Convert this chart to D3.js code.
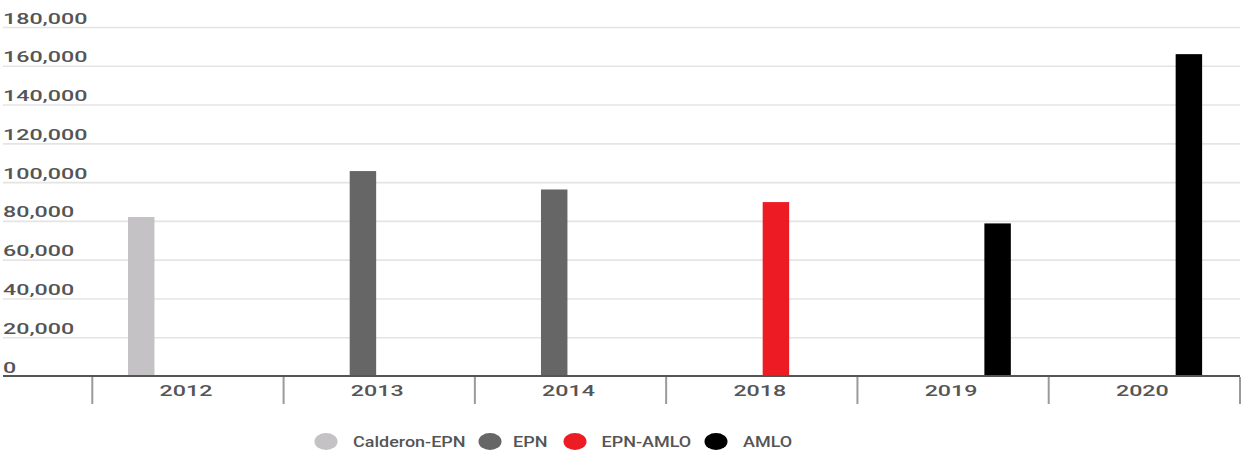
<!DOCTYPE html>
<html>
<head>
<meta charset="utf-8">
<script src="https://cdn.jsdelivr.net/npm/d3@7"></script>
<style>
  html, body { margin: 0; padding: 0; background: #fff; }
  svg { display: block; }
  text { font-family: Roboto, "Open Sans", sans-serif; }
</style>
</head>
<body>
<svg id="chart" width="1247" height="455"></svg>
<script>
// Years on the x axis
const categories = ["2012", "2013", "2014", "2018", "2019", "2020"];
// Series (administration periods)
const seriesNames = ["Calderon-EPN", "EPN", "EPN-AMLO", "AMLO"];
const seriesColors = ["#c4c2c4", "#666666", "#ed1c24", "#000000"];
// Values per series, one per year (null where the series has no bar)
const calderonEpnValues = [82000, null, null, null, null, null];
const epnValues = [null, 105700, 96200, null, null, null];
const epnAmloValues = [null, null, null, 89700, null, null];
const amloValues = [null, null, null, null, 78700, 166000];
// Y tick values
const yTicks = [0, 20000, 40000, 60000, 80000, 100000, 120000, 140000, 160000, 180000];

const seriesValues = [calderonEpnValues, epnValues, epnAmloValues, amloValues];

const svg = d3.select("#chart");
const left = 3, right = 1240, baseY = 376, topY = 27;
const stretch = 1.55;      // horizontal stretch of the axis type
const legendStretch = 1.2;

const x0 = d3.scaleBand().domain(categories).range([92.3, right]).padding(0);
const x1 = d3.scaleBand().domain(seriesNames).range([35.7, 153.4]).paddingInner(0.13);
const y = d3.scaleLinear().domain([0, 180000]).range([baseY, topY]);
const color = d3.scaleOrdinal().domain(seriesNames).range(seriesColors);

// Horizontal gridlines
const grid = svg.append("g")
  .attr("transform", `translate(${left},0)`)
  .call(d3.axisLeft(y).tickValues(yTicks.filter(d => d > 0)).tickSize(-(right - left)).tickFormat(""));
grid.select(".domain").remove();
grid.selectAll(".tick line").attr("stroke", "#e4e4e4").attr("stroke-width", 1.6);

// Y labels sitting just above each gridline
const fmt = d3.format(",");
svg.append("g").selectAll("text")
  .data(yTicks)
  .join("text")
  .attr("transform", d => `translate(${left},${y(d) - 3.5}) scale(${stretch},1)`)
  .attr("font-size", 15)
  .attr("font-weight", 500)
  .attr("fill", "#555")
  .text(d => fmt(d));

// Bars
const rows = [];
categories.forEach((c, i) => {
  seriesNames.forEach((s, j) => {
    const v = seriesValues[j][i];
    if (v != null) rows.push({ cat: c, series: s, value: v });
  });
});
svg.append("g").selectAll("rect")
  .data(rows)
  .join("rect")
  .attr("x", d => x0(d.cat) + x1(d.series))
  .attr("width", x1.bandwidth())
  .attr("y", d => y(d.value))
  .attr("height", d => y(0) - y(d.value))
  .attr("fill", d => color(d.series));

// Baseline
svg.append("line")
  .attr("x1", left).attr("x2", right)
  .attr("y1", baseY).attr("y2", baseY)
  .attr("stroke", "#555").attr("stroke-width", 2);

// Category separators (ticks at band edges)
const edges = categories.map(c => x0(c)).concat([x0.range()[1]]);
svg.append("g").selectAll("line")
  .data(edges)
  .join("line")
  .attr("x1", d => d).attr("x2", d => d)
  .attr("y1", baseY + 1).attr("y2", 404)
  .attr("stroke", "#9a9a9a").attr("stroke-width", 2);

// Category labels
svg.append("g").selectAll("text")
  .data(categories)
  .join("text")
  .attr("transform", d => `translate(${x0(d) + x0.bandwidth() / 2 - 2},396) scale(${stretch},1)`)
  .attr("text-anchor", "middle")
  .attr("font-size", 15)
  .attr("font-weight", 500)
  .attr("fill", "#555")
  .text(d => d);

// Legend
const legendItems = [
  { name: "Calderon-EPN", cx: 326, tx: 353 },
  { name: "EPN", cx: 490, tx: 513 },
  { name: "EPN-AMLO", cx: 575, tx: 601.5 },
  { name: "AMLO", cx: 716, tx: 743 }
];
const legend = svg.append("g");
legend.selectAll("ellipse")
  .data(legendItems)
  .join("ellipse")
  .attr("cx", d => d.cx).attr("cy", 441.5)
  .attr("rx", 11.5).attr("ry", 8.5)
  .attr("fill", d => color(d.name));
legend.selectAll("text")
  .data(legendItems)
  .join("text")
  .attr("transform", d => `translate(${d.tx},447) scale(${legendStretch},1)`)
  .attr("font-size", 15)
  .attr("font-weight", 500)
  .attr("fill", "#555")
  .text(d => d.name);
</script>
</body>
</html>
